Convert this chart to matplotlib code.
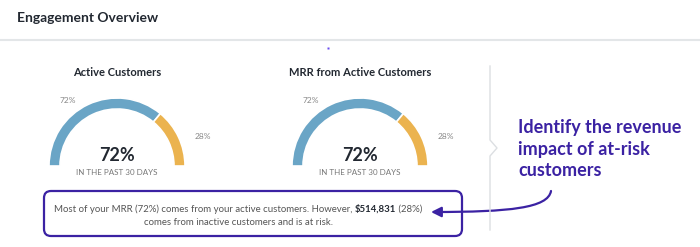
import matplotlib.pyplot as plt
from matplotlib.patches import Wedge, FancyBboxPatch, FancyArrowPatch
from matplotlib.path import Path

plt.rcParams['font.family'] = ['Lato', 'DejaVu Sans']

# data
gauge_titles = ['Active Customers', 'MRR from Active Customers']
active_pct = [72, 72]
risk_pct = [28, 28]
subtitle = 'IN THE PAST 30 DAYS'
risk_amount = '$514,831'

blue = '#6aa5c6'
orange = '#ebb34f'
purple = '#3b22a3'
dark = '#222831'
grey = '#888888'

fig = plt.figure(figsize=(7, 2.47), dpi=100)
ax = fig.add_axes([0, 0, 1, 1])
ax.set_xlim(0, 700)
ax.set_ylim(247, 0)
ax.axis('off')

# header
ax.text(17, 18, 'Engagement Overview', fontsize=10, fontweight='bold', color=dark, va='center')
ax.plot([0, 700], [40, 40], color='#e3e6e8', lw=1.5)
ax.plot([328], [48], marker='s', ms=1.5, color='#6a4cf0', mec='none')

# gauges
centers = [117, 360]
for cx, title, a, r in zip(centers, gauge_titles, active_pct, risk_pct):
    cy = 166
    split = 180 * r / (a + r)
    # y axis is inverted, so angles are mirrored
    ax.add_patch(Wedge((cx, cy), 68, 180, 360 - split, width=11, facecolor=blue,
                       edgecolor='white', lw=1.2))
    ax.add_patch(Wedge((cx, cy), 68, 360 - split, 360, width=11, facecolor=orange,
                       edgecolor='white', lw=1.2))
    ax.text(cx, 72, title, fontsize=8, fontweight='bold', color=dark, ha='center', va='center')
    ax.text(cx - 49, 100, f'{a}%', fontsize=6, color=grey, ha='center', va='center')
    ax.text(cx + 86, 136, f'{r}%', fontsize=6, color=grey, ha='center', va='center')
    ax.text(cx, 155, f'{a}%', fontsize=13, fontweight='bold', color=dark, ha='center', va='center')
    ax.text(cx, 172, subtitle, fontsize=5.8, color='#777777', ha='center', va='center')

# divider with chevron
ax.plot([490, 490, 497, 490, 490], [66, 140, 148, 156, 230], color='#dcdfe2', lw=1)

# callout text
ax.text(518, 149, 'Identify the revenue\nimpact of at-risk\ncustomers', fontsize=13,
        fontweight='bold', color=purple, ha='left', va='center', linespacing=1.3)

# box
ax.add_patch(FancyBboxPatch((44, 191), 418, 45, boxstyle='round,pad=0,rounding_size=7',
                            facecolor='none', edgecolor=purple, lw=1.6))

fs = 6.9
parts = [(f'Most of your MRR ({active_pct[1]}%) comes from your active customers. However, ', 'normal', '#555555'),
         (risk_amount, 'bold', dark),
         (f' ({risk_pct[1]}%)', 'normal', '#555555')]
fig.canvas.draw()
rend = fig.canvas.get_renderer()
texts = []
prev = None
for s, w, c in parts:
    if prev is None:
        t = ax.text(0, 209, s, fontsize=fs, fontweight=w, color=c, ha='left', va='center')
    else:
        t = ax.annotate(s, xy=(1, 0.5), xycoords=prev, fontsize=fs, fontweight=w, color=c,
                        ha='left', va='center')
    texts.append(t)
    prev = t
total = sum(t.get_window_extent(rend).width for t in texts)
texts[0].set_x(238 - total / 2)
ax.text(238, 222, 'comes from inactive customers and is at risk.', fontsize=fs,
        color='#555555', ha='center', va='center')

# arrow
verts = [(551, 191), (548, 208), (510, 212), (431, 212)]
codes = [Path.MOVETO, Path.CURVE4, Path.CURVE4, Path.CURVE4]
ax.add_patch(FancyArrowPatch(path=Path(verts, codes), arrowstyle='-|>,head_length=6,head_width=3',
                             color=purple, lw=1.6))

fig.savefig('out.png', dpi=100)
